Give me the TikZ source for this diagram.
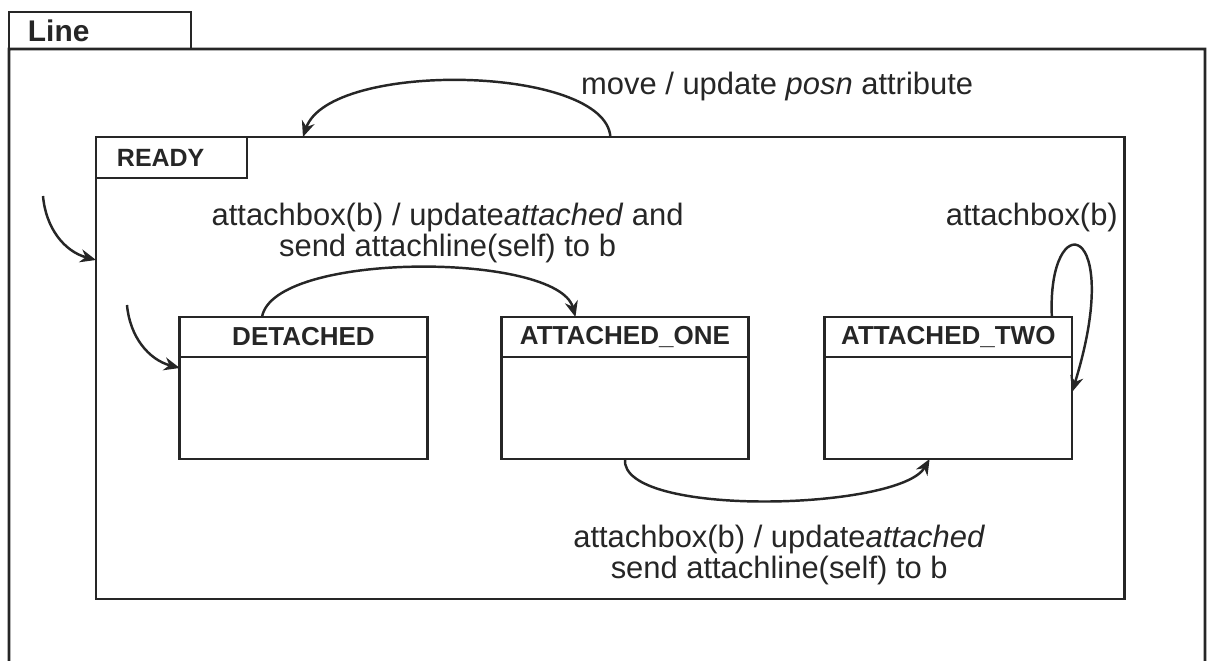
\documentclass[tikz,border=0pt]{standalone}
\usepackage{fontspec}
\setmainfont{Liberation Sans}
\usetikzlibrary{positioning,arrows.meta}

\begin{document}
\begin{tikzpicture}[
  x=0.02cm, y=-0.02cm,
  color=black!85,
  line width=1.5pt,
  every node/.style={font=\fontsize{17.6}{17.6}\selectfont},
  tabbox/.style={draw, rectangle, inner sep=0pt, outer sep=0pt, align=left,
    font=\fontsize{14.2}{16}\selectfont\bfseries},
  statehead/.style={draw, rectangle, inner sep=0pt, outer sep=0pt,
    minimum width=4.95cm, minimum height=0.8cm,
    font=\fontsize{14.8}{16}\selectfont\bfseries},
  statebody/.style={draw, rectangle, inner sep=0pt, outer sep=0pt,
    minimum width=4.95cm, minimum height=2.04cm},
  trans/.style={-{Stealth[length=9pt,width=7.5pt]}, line width=1.4pt},
  lbl/.style={align=center, inner sep=0pt}
]
  \useasboundingbox (0,0) rectangle (1208,661);

  % the Line object, cut off at the bottom
  \node[tabbox, text width=2.88cm, inner xsep=0.38cm, minimum height=0.74cm,
        anchor=north west, font=\fontsize{17}{18}\selectfont\bfseries]
    (linetab) at (9,12) {Line};
  \draw (9,661) -- (linetab.south west) -- (1205,49) -- (1205,661);

  % READY superstate
  \node[draw, rectangle, inner sep=0pt, outer sep=0pt,
        minimum width=20.58cm, minimum height=9.24cm, anchor=north west]
    (ready) at (96,137) {};
  \node[tabbox, text width=2.18cm, inner xsep=0.42cm, minimum height=0.82cm,
        anchor=north west] (readytab) at (ready.north west) {READY};

  % substates
  \node[statehead] (det) at (303.5,337) {DETACHED};
  \node[statebody, below=0pt of det] (detb) {};
  \node[statehead, right=1.48cm of det] (one) {ATTACHED\_ONE};
  \node[statebody, below=0pt of one] (oneb) {};
  \node[statehead, right=1.52cm of one] (two) {ATTACHED\_TWO};
  \node[statebody, below=0pt of two] (twob) {};

  % initial transitions
  \coordinate (readyinit) at (43,196);
  \coordinate (detinit) at (127,305);
  \draw[trans] (readyinit) to[out=-85, in=165] ([yshift=2.16cm]ready.west);
  \draw[trans] (detinit) to[out=-85, in=165] ([yshift=-0.22cm]detb.north west);

  % transitions
  \draw[trans] (ready.north) .. controls +(-5,-72) and +(27,-77) ..
    ([xshift=-6.15cm]ready.north)
    node[pos=0, anchor=base west, xshift=-0.61cm, yshift=0.84cm, lbl]
      {move / update \textit{posn} attribute};
  \draw[trans] ([xshift=-0.83cm]det.north) to[out=80, in=105, looseness=0.55]
    node[above=0.08cm, xshift=0.62cm, lbl]
      {attachbox(b) / update\textit{attached} and\\send attachline(self) to b}
    ([xshift=-0.99cm]one.north);
  \draw[trans] (oneb.south) to[out=-95, in=-120, looseness=0.5]
    node[below=0.46cm, xshift=0.3cm, lbl]
      {attachbox(b) / update\textit{attached}\\send attachline(self) to b}
    ([xshift=-0.375cm]twob.south);
  \draw[trans] ([xshift=2.07cm]two.north) .. controls +(-5,-112) and +(53,-172) ..
    ([yshift=-0.7cm]twob.north east)
    node[pos=0, anchor=base, xshift=-0.4cm, yshift=1.84cm, lbl] {attachbox(b)};
\end{tikzpicture}
\end{document}
